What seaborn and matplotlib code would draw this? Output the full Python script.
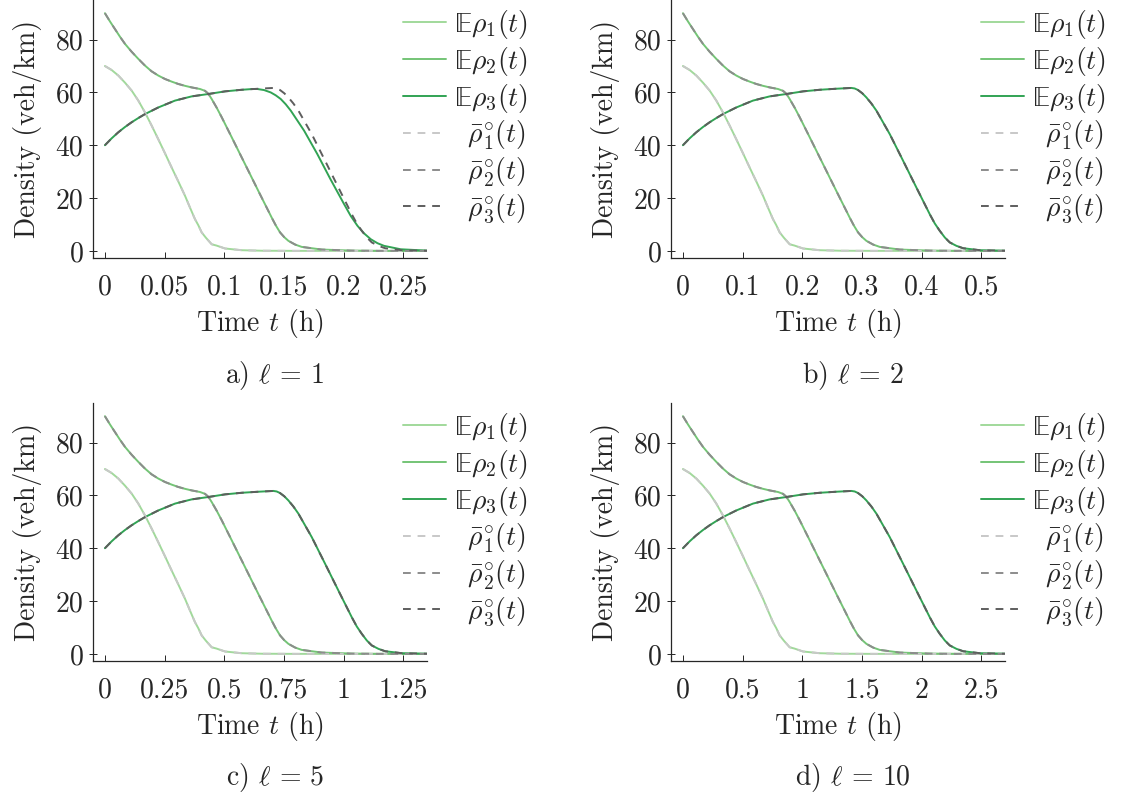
import numpy as np
import pandas as pd
import matplotlib
matplotlib.use("Agg")
import matplotlib.pyplot as plt
from matplotlib.ticker import FuncFormatter, FixedLocator
import seaborn as sns

# time normalised by ell (h / ell)
t1 = [0, 0.0056, 0.0112, 0.0168, 0.0224, 0.028, 0.0336, 0.0391, 0.0447, 0.0503,
      0.0559, 0.0615, 0.0671, 0.0713, 0.0755, 0.0783, 0.0811, 0.0846, 0.0895,
      0.0936, 0.1007, 0.1146, 0.1320, 0.1600, 0.2000, 0.2700]
rho1 = [70, 68.5, 66.4, 63.7, 60.7, 56.9, 52.4, 47.5, 42.3, 37.0,
        31.6, 26.3, 20.9, 16.4, 12.0, 9.7, 7.0, 5.0, 2.5,
        2.0, 0.9, 0.25, 0.05, 0.0, 0.0, 0.0]

t2 = [0, 0.0042, 0.0084, 0.0126, 0.0168, 0.0224, 0.028, 0.0335, 0.0391, 0.0447,
      0.0503, 0.0559, 0.0615, 0.0671, 0.0727, 0.0797, 0.0839, 0.0867, 0.0895,
      0.0937, 0.0979, 0.1063, 0.1174, 0.1286, 0.1398, 0.1433, 0.1468, 0.1503,
      0.1538, 0.1594, 0.165, 0.1818, 0.207, 0.2300, 0.2700]
rho2 = [90, 86.9, 84.0, 81.1, 78.4, 75.4, 72.7, 70.2, 68.0, 66.4,
        65.1, 64.1, 63.2, 62.5, 61.9, 61.3, 60.6, 59.5, 57.5,
        54.2, 50.6, 43.0, 32.9, 22.7, 12.6, 9.6, 7.0, 5.2,
        3.8, 2.4, 1.5, 0.5, 0.1, 0.0, 0.0]

t3 = [0, 0.0056, 0.0112, 0.0168, 0.0224, 0.028, 0.0336, 0.0447, 0.0587, 0.0727,
      0.0867, 0.1007, 0.1146, 0.1286, 0.1370, 0.1412, 0.1440, 0.1468, 0.1503,
      0.1538, 0.1580, 0.1622, 0.1734, 0.1846, 0.1957, 0.2069, 0.2111, 0.2153,
      0.2195, 0.2237, 0.2293, 0.2349, 0.2489, 0.2700]
rho3 = [40, 42.6, 44.9, 46.9, 48.7, 50.3, 51.8, 54.3, 56.9, 58.5,
        59.4, 60.4, 61.0, 61.4, 61.6, 61.7, 61.5, 60.9, 59.7,
        58.1, 55.8, 53.1, 44.2, 34.1, 24.0, 13.9, 10.4, 7.6,
        5.1, 3.2, 1.9, 1.0, 0.25, 0.05]

# expected rho_3 for ell = 1 (rounder corner than the limit curve)
t3_l1 = [0, 0.0056, 0.0112, 0.0168, 0.0224, 0.028, 0.0336, 0.0447, 0.0587, 0.0727,
         0.0867, 0.1007, 0.1146, 0.1240, 0.1278, 0.1334, 0.139, 0.1432, 0.1474,
         0.1516, 0.1558, 0.167, 0.178, 0.189, 0.2005, 0.2061, 0.2117, 0.2173,
         0.2229, 0.2285, 0.234, 0.248, 0.2700]
rho3_l1 = [40, 42.6, 44.9, 46.9, 48.7, 50.3, 51.8, 54.3, 56.9, 58.5,
           59.4, 60.4, 61.0, 61.3, 61.3, 60.9, 60.0, 58.9, 57.5,
           55.5, 53.1, 45.5, 36.7, 27.2, 17.7, 13.2, 9.5, 6.6,
           4.4, 2.9, 1.9, 0.6, 0.1]

ells = [1, 2, 5, 10]
panel_tags = ["a", "b", "c", "d"]
xticks = [[0, 0.05, 0.1, 0.15, 0.2, 0.25],
          [0, 0.1, 0.2, 0.3, 0.4, 0.5],
          [0, 0.25, 0.5, 0.75, 1, 1.25],
          [0, 0.5, 1, 1.5, 2, 2.5]]
yticks = [0, 20, 40, 60, 80]

greens = ["#a1d99b", "#74c476", "#31a354"]
greys = ["#c8c8c8", "#8c8c8c", "#5e5e5e"]

sns.set_style("ticks")
plt.rcParams["font.family"] = "serif"
plt.rcParams["font.serif"] = ["cmr10"]
plt.rcParams["mathtext.fontset"] = "cm"
plt.rcParams["axes.formatter.use_mathtext"] = True
plt.rcParams["font.size"] = 20

fig = plt.figure(figsize=(11.27, 8.07), dpi=100)

W, H = 1127, 807
boxes = [(93, 0), (671, 0), (93, 403), (671, 403)]   # left, top in px
aw, ah = 334, 258

for i, ell in enumerate(ells):
    left, top = boxes[i]
    ax = fig.add_axes([left / W, 1 - (top + ah) / H, aw / W, ah / H])

    solid = [
        pd.DataFrame({"t": np.array(t1) * ell, "rho": rho1}),
        pd.DataFrame({"t": np.array(t2) * ell, "rho": rho2}),
        pd.DataFrame({"t": np.array(t3_l1 if ell == 1 else t3) * ell,
                      "rho": rho3_l1 if ell == 1 else rho3}),
    ]
    limit = [
        pd.DataFrame({"t": np.array(t1) * ell, "rho": rho1}),
        pd.DataFrame({"t": np.array(t2) * ell, "rho": rho2}),
        pd.DataFrame({"t": np.array(t3) * ell, "rho": rho3}),
    ]
    for k in range(3):
        sns.lineplot(data=solid[k], x="t", y="rho", ax=ax, color=greens[k],
                     linewidth=1.4, estimator=None, sort=False,
                     label=r"$\mathrm{\mathbb{E}}\rho_{%d}(t)$" % (k + 1))
    for k in range(3):
        sns.lineplot(data=limit[k], x="t", y="rho", ax=ax, color=greys[k],
                     linewidth=1.4, estimator=None, sort=False,
                     linestyle=(0, (4, 3.5)),
                     label=r"$\;\;\bar{\rho}^{\circ}_{%d}(t)$" % (k + 1))

    ax.set_xlim(-0.01 * ell, 0.27 * ell)
    ax.set_ylim(-2.7, 95)
    ax.xaxis.set_major_locator(FixedLocator(xticks[i]))
    ax.yaxis.set_major_locator(FixedLocator(yticks))
    ax.xaxis.set_major_formatter(FuncFormatter(lambda v, p: "%g" % v))
    ax.yaxis.set_major_formatter(FuncFormatter(lambda v, p: "%g" % v))
    sns.despine(ax=ax)
    for s in ["left", "bottom"]:
        ax.spines[s].set_linewidth(0.9)
    ax.tick_params(axis="x", direction="in", length=4, width=0.7, pad=12)
    ax.tick_params(axis="y", direction="inout", length=6, width=0.7, pad=4)
    ax.set_xlabel(r"Time $t$ (h)", labelpad=4)
    ax.set_ylabel("Density (veh/km)", labelpad=10)

    ax.legend(loc="upper left", bbox_to_anchor=(310 / aw, 1 - 8 / ah),
              bbox_transform=ax.transAxes, frameon=False, borderpad=0,
              borderaxespad=0, handlelength=1.55, handletextpad=0.3,
              labelspacing=0.14, fontsize=20)

    cx = (left + 182) / W
    cy = 1 - (top + 375) / H
    fig.text(cx, cy, r"%s) $\ell$ = %d" % (panel_tags[i], ell),
             ha="center", va="center", fontsize=20)

fig.savefig("out.png", dpi=100)
